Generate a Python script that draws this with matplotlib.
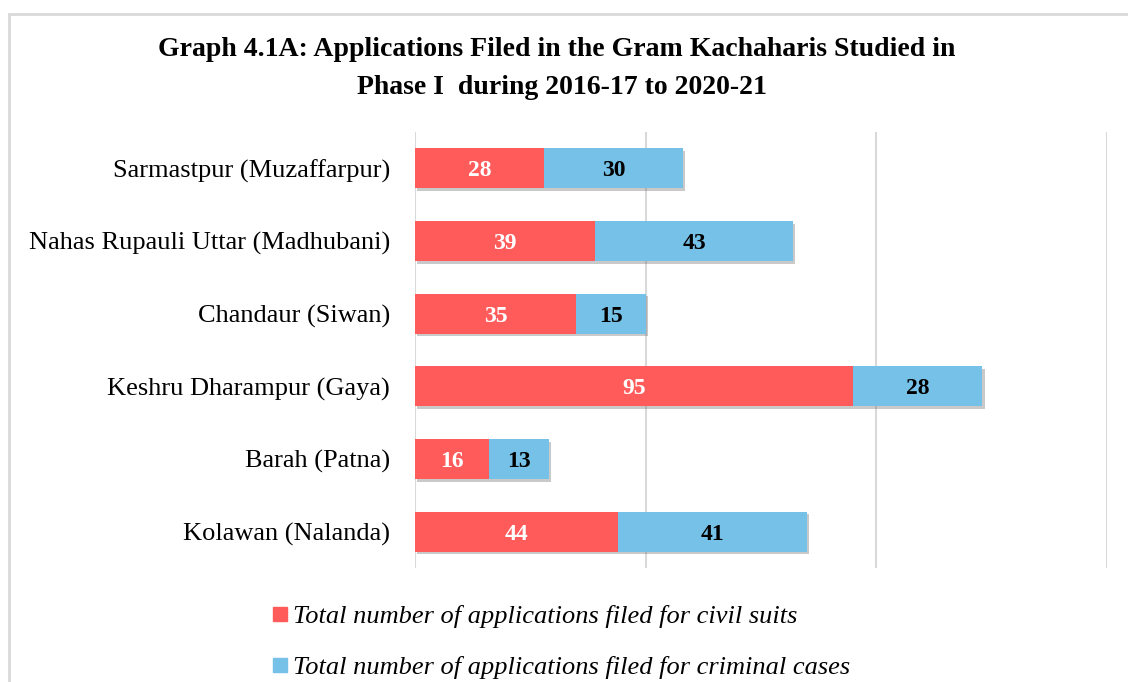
import matplotlib.pyplot as plt
import matplotlib.patheffects as pe
from matplotlib.patches import Rectangle
import numpy as np

places = ['Sarmastpur (Muzaffarpur)', 'Nahas Rupauli Uttar (Madhubani)', 'Chandaur (Siwan)',
          'Keshru Dharampur (Gaya)', 'Barah (Patna)', 'Kolawan (Nalanda)']
civil = [28, 39, 35, 95, 16, 44]
criminal = [30, 43, 15, 28, 13, 41]
x_ticks = [0, 50, 100, 150]

red = '#FF5B5B'
blue = '#75C1E7'
serif = ['Liberation Serif', 'DejaVu Serif']

fig = plt.figure(figsize=(11.28, 6.82), dpi=100)
W, H = 1128, 682
ax = fig.add_axes([415 / W, 1 - 568 / H, (1107 - 415) / W, (568 - 132) / H])

# light frame around the chart (cropped at right and bottom)
fig.patches.append(Rectangle((9 / W, -0.1), 1.2, 1 - 14 / H + 0.1, transform=fig.transFigure,
                             fill=False, edgecolor='#D9D9D9', linewidth=2, zorder=0))

y = np.arange(len(places))
shadow = [pe.SimplePatchShadow(offset=(1.5, -2), shadow_rgbFace='#666666', alpha=0.35), pe.Normal()]
b1 = ax.barh(y, civil, height=0.55, color=red, zorder=3)
b2 = ax.barh(y, criminal, left=civil, height=0.55, color=blue, zorder=3)
for bars in (b1, b2):
    for b in bars:
        b.set_path_effects(shadow)

for i in range(len(places)):
    ax.text(civil[i] / 2, y[i], str(civil[i]), ha='center', va='center_baseline', color='white',
            fontsize=17, fontweight='bold', family=serif, zorder=5)
    ax.text(civil[i] + criminal[i] / 2, y[i], str(criminal[i]), ha='center', va='center_baseline',
            color='black', fontsize=17, fontweight='bold', family=serif, zorder=5)

ax.set_xlim(0, 150)
ax.set_ylim(len(places) - 0.5, -0.5)
ax.set_xticks(x_ticks)
ax.set_xticklabels([])
ax.tick_params(axis='x', length=0)
ax.tick_params(axis='y', length=0, pad=18)
ax.set_yticks(y)
ax.set_yticklabels(places, fontsize=19, family=serif, va='center_baseline')
ax.grid(axis='x', color='#D9D9D9', linewidth=1.5, zorder=0)
for s in ax.spines.values():
    s.set_visible(False)

fig.text(557 / W, 1 - 50 / H, 'Graph 4.1A: Applications Filed in the Gram Kachaharis Studied in',
         ha='center', va='center', fontsize=20, fontweight='bold', family=serif)
fig.text(562 / W, 1 - 87 / H, 'Phase I  during 2016-17 to 2020-21',
         ha='center', va='center', fontsize=20, fontweight='bold', family=serif)

legend_labels = ['Total number of applications filed for civil suits',
                 'Total number of applications filed for criminal cases']
for lab, col, yy in zip(legend_labels, [red, blue], [614, 665]):
    fig.patches.append(Rectangle((273 / W, 1 - (yy + 7) / H), 14 / W, 14 / H,
                                 transform=fig.transFigure, color=col))
    fig.text(293 / W, 1 - yy / H, lab, ha='left', va='center_baseline', fontsize=19,
             style='italic', family=serif)

fig.savefig('out.png', dpi=100)
